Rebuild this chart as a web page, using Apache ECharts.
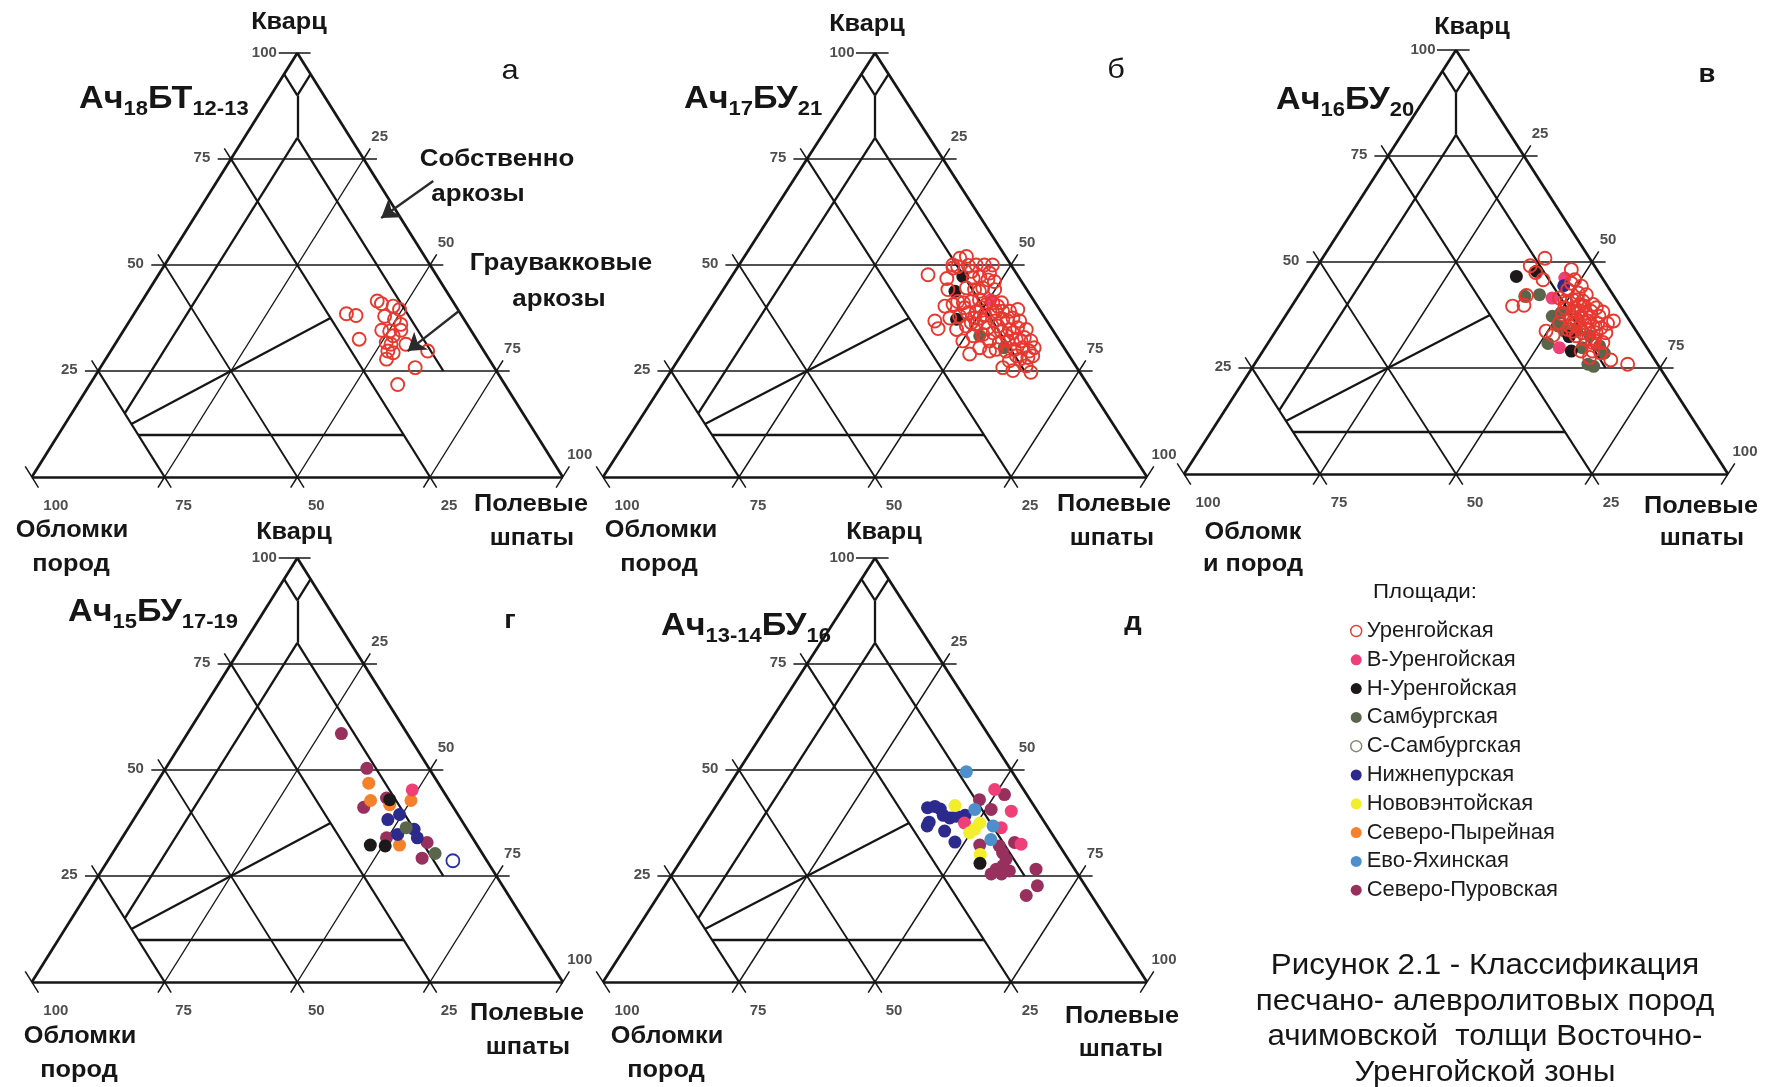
<!DOCTYPE html>
<html>
<head>
<meta charset="utf-8">
<script src="https://cdn.jsdelivr.net/npm/echarts@6/dist/echarts.min.js"></script>
<style>
  html, body { margin: 0; padding: 0; background: #ffffff; }
  #chart { width: 1771px; height: 1087px; }
</style>
</head>
<body>
<div id="chart"></div>
<script>
// Состав пород по треугольнику Q–F–R (Шутов):
// каждая точка — [кварц, полевые шпаты], %, обломки пород = 100 − Q − F.

// а — Ач18БТ12-13
const a_urengoy = [[38.5,40.0],[38.1,42.0],[32.5,45.4],[41.5,44.3],[40.9,45.4],[40.3,47.9],[39.5,49.5],[37.9,47.5],[37.2,49.7],[36.0,51.5],[34.6,48.6],[34.4,50.2],[34.6,52.2],[33.3,51.4],[31.7,50.9],[31.3,52.0],[29.7,52.2],[29.3,53.4],[27.8,52.9],[31.3,54.8],[29.7,59.7],[25.8,59.3],[21.8,58.0]];

// б — Ач17БУ21
const b_urengoy = [[51.6,39.8],[52.0,40.8],[49.6,40.4],[49.9,42.2],[50.0,43.6],[50.0,45.1],[50.0,46.6],[47.7,35.9],[46.8,39.8],[47.3,45.6],[46.5,47.5],[46.1,48.9],[44.2,41.3],[44.6,44.5],[44.2,46.2],[44.6,47.5],[44.2,49.9],[40.3,42.7],[40.7,44.0],[41.1,45.7],[41.4,47.0],[41.8,48.3],[40.7,50.1],[41.1,51.1],[41.1,52.7],[36.8,42.6],[35.0,44.1],[37.5,45.0],[37.9,46.6],[38.7,47.7],[39.1,49.1],[38.3,51.0],[38.7,52.3],[39.1,53.9],[39.1,55.2],[39.5,56.5],[34.8,47.6],[35.6,49.0],[36.0,50.6],[36.4,52.0],[36.8,53.6],[37.2,54.9],[37.5,56.6],[36.8,58.2],[32.1,50.1],[33.3,51.4],[33.6,53.0],[34.0,54.7],[34.4,56.0],[34.8,57.3],[35.2,58.6],[34.8,60.4],[29.0,52.9],[32.1,55.0],[31.7,57.0],[32.1,58.4],[32.5,59.7],[32.9,61.0],[32.1,62.6],[30.1,57.2],[29.7,59.2],[30.1,60.6],[30.5,61.9],[29.7,63.5],[30.5,64.0],[27.8,62.7],[28.2,64.0],[27.4,61.0],[25.8,60.6],[25.1,62.8],[26.2,64.7],[24.7,66.3],[46.9,44.6],[36.4,49.5],[37.5,50.5],[35.2,53.2],[35.6,54.8],[33.3,57.5],[34.0,58.3],[32.1,60.8],[37.5,49.5],[39.9,46.5],[39.9,49.6],[39.1,52.7],[50.0,39.3],[49.3,39.7],[48.5,43.5],[48.1,47.0],[41.4,44.5],[43.8,47.3],[40.3,52.4],[36.8,56.0],[29.7,56.2],[30.5,54.0],[28.6,61.7],[28.6,64.7]];
const b_nUrengoy = [[47.3,42.5],[43.8,42.8],[37.2,46.4]];
const b_vUrengoy = [[41.8,50.4]];
const b_samburg  = [[33.3,52.6],[30.5,58.5]];

// в — Ач16БУ20
const v_urengoy = [[50.9,40.9],[49.1,39.1],[47.5,40.9],[42.1,41.9],[39.6,40.6],[39.8,42.6],[45.8,43.1],[48.2,47.1],[45.8,48.9],[44.3,50.9],[43.5,48.8],[42.3,52.8],[41.1,51.8],[40.4,50.1],[41.5,48.3],[39.2,52.2],[39.6,53.8],[40.0,55.2],[39.2,56.2],[38.2,57.9],[37.6,50.8],[36.9,52.8],[37.2,54.4],[36.9,56.1],[35.5,58.3],[35.5,60.1],[36.1,60.9],[35.7,51.2],[34.9,53.4],[34.5,55.4],[34.1,57.2],[33.3,59.1],[33.7,49.7],[32.7,51.5],[32.6,55.8],[31.8,58.0],[31.4,59.8],[31.0,61.5],[29.0,58.5],[29.0,60.6],[28.6,62.3],[26.9,65.0],[25.9,68.6],[27.5,60.8],[38.4,52.3],[40.8,52.9],[39.2,50.4],[41.1,50.9],[39.6,52.9],[38.0,54.9],[36.5,53.9],[35.7,55.8],[34.1,53.5],[38.0,53.4],[34.9,57.7],[40.8,49.6],[36.5,52.7],[35.3,54.1],[38.4,53.8],[36.1,56.2],[33.7,54.6],[33.3,56.6],[38.4,55.6],[42.7,51.1],[45.0,48.7],[37.2,57.7],[31.0,59.6],[33.3,60.9],[34.5,59.4]];
const v_nUrengoy = [[46.6,37.8],[47.8,40.9],[32.4,54.6],[29.0,56.7]];
const v_vUrengoy = [[41.5,46.9],[29.8,54.1],[46.2,46.9]];
const v_samburg  = [[41.9,41.7],[42.3,44.2],[37.2,49.1],[34.9,51.3],[33.7,53.1],[30.8,51.5],[32.6,58.3],[28.5,63.0],[25.9,61.3],[25.4,62.6],[29.8,58.3],[38.0,50.3],[33.7,55.1],[30.2,61.3]];
const v_nizhnepur = [[44.4,47.6]];

// г — Ач15БУ17-19
const g_sevPurov  = [[58.6,29.0],[50.4,37.9],[41.2,41.9],[43.4,45.1],[34.0,49.8],[32.9,58.0],[29.2,58.9]];
const g_sevPyrey  = [[46.9,40.0],[42.8,42.4],[41.8,46.5],[42.8,50.0],[32.3,53.1]];
const g_nUrengoy  = [[43.0,45.9],[32.3,47.6],[32.1,50.5]];
const g_vUrengoy  = [[45.3,49.0]];
const g_nizhnepur = [[39.5,49.5],[38.3,47.9],[36.0,54.0],[34.8,51.5],[34.0,55.6]];
const g_samburg   = [[36.4,52.3],[30.3,60.8]];
const g_sSamburg  = [[28.6,65.0]];

// д — Ач13-14БУ16
const d_nizhnepur = [[41.1,39.1],[41.4,40.3],[40.8,41.6],[39.3,42.9],[38.7,44.4],[39.3,46.9],[36.8,41.2],[37.7,41.1],[35.6,45.0],[33.0,48.2],[39.1,45.4]];
const d_novoventoy = [[41.6,43.9],[37.5,50.5],[35.2,49.8],[36.0,50.3],[30.1,54.3]];
const d_evoYakha  = [[49.6,42.0],[36.8,53.3],[33.6,54.5],[40.7,48.0]];
const d_vUrengoy  = [[45.4,49.3],[40.3,54.9],[32.5,60.6],[36.4,55.0],[37.5,47.7]];
const d_sevPurov  = [[43.0,47.7],[44.2,51.7],[40.7,51.0],[32.3,53.1],[32.1,56.8],[30.5,58.2],[29.0,59.6],[26.6,59.0],[26.2,61.6],[32.9,59.2],[26.6,66.3],[22.7,68.5],[20.4,67.6],[27.4,59.8],[25.5,58.6],[25.5,60.5]];
const d_nUrengoy  = [[28.0,55.3]];

// Площади (легенда)
const areaNames = ['Уренгойская','В-Уренгойская','Н-Уренгойская','Самбургская','С-Самбургская','Нижнепурская','Нововэнтойская','Северо-Пырейная','Ево-Яхинская','Северо-Пуровская'];

// Подписи шкал
const edgeTicks = [25, 50, 75];
const panelLetters = ['а','б','в','г','д'];
const panelTitles = [
  ['Ач','18','БТ','12-13'],
  ['Ач','17','БУ','21'],
  ['Ач','16','БУ','20'],
  ['Ач','15','БУ','17-19'],
  ['Ач','13-14','БУ','16']
];

// Стрелки-указатели полей на диаграмме «а» (x = F + Q/2, y = Q)
const arrowNotes = [
  [[75.6,69.8],[65.8,61.1]],
  [[80.5,39.2],[70.8,29.7]]
];

// ---------------------------------------------------------------
const W = 544, H = 424;           // размер треугольника, px
const PAD = 6;                    // запас осей за пределами треугольника
const panels = [
  { x0: 18,   y0: 477, sets: { 'Уренгойская': a_urengoy } },
  { x0: 603,  y0: 477, sets: { 'Уренгойская': b_urengoy, 'Самбургская': b_samburg, 'В-Уренгойская': b_vUrengoy, 'Н-Уренгойская': b_nUrengoy } },
  { x0: 1184, y0: 474, sets: { 'Уренгойская': v_urengoy, 'Самбургская': v_samburg, 'В-Уренгойская': v_vUrengoy, 'Н-Уренгойская': v_nUrengoy, 'Нижнепурская': v_nizhnepur } },
  { x0: 18,   y0: 982, sets: { 'Северо-Пуровская': g_sevPurov, 'Северо-Пырейная': g_sevPyrey, 'Н-Уренгойская': g_nUrengoy, 'В-Уренгойская': g_vUrengoy, 'Нижнепурская': g_nizhnepur, 'Самбургская': g_samburg, 'С-Самбургская': g_sSamburg } },
  { x0: 603,  y0: 982, sets: { 'Нижнепурская': d_nizhnepur, 'Северо-Пуровская': d_sevPurov, 'В-Уренгойская': d_vUrengoy, 'Ево-Яхинская': d_evoYakha, 'Нововэнтойская': d_novoventoy, 'Н-Уренгойская': d_nUrengoy } }
];

const FONT = '"Liberation Sans", Arial, sans-serif';
const INK = '#161616';

const areaStyle = {
  'Уренгойская':      { color: 'rgba(255,255,255,0)', borderColor: '#e6392f', borderWidth: 1.9 },
  'В-Уренгойская':    { color: '#ee3f79' },
  'Н-Уренгойская':    { color: '#1d191b' },
  'Самбургская':      { color: '#59664c' },
  'С-Самбургская':    { color: 'rgba(255,255,255,0)', borderColor: '#2a33a6', borderWidth: 1.8 },
  'Нижнепурская':     { color: '#2d2a8e' },
  'Нововэнтойская':   { color: '#f3ee2c' },
  'Северо-Пырейная':  { color: '#f5812c' },
  'Ево-Яхинская':     { color: '#4c8fca' },
  'Северо-Пуровская': { color: '#98305d' }
};

// тройная точка (Q, F) -> декартовы координаты панели
const tern = (q, f) => [f + q / 2, q];

// Каркас диаграммы в координатах [Q, F]
const frameEdges = [[[0,0],[0,100]], [[0,0],[100,0]], [[0,100],[100,0]]];
const frameGridQ = [[[25,0],[25,75]], [[50,0],[50,50]], [[75,0],[75,25]]];
const frameGridF = [[[0,25],[75,25]], [[0,50],[50,50]], [[0,75],[25,75]]];
const frameGridRBold = [[[0,75],[75,0]], [[0,25],[25,0]]];
const frameGridR = [[[0,50],[50,0]]];
const frameFields = [
  [[95,0],[90,5]], [[95,5],[90,5]], [[90,5],[80,10]],
  [[80,10],[15,10]], [[80,10],[25,65]],
  [[12.5,12.5],[37.5,37.5]], [[10,15],[10,65]]
];

function segs(list) {
  return list.map(s => ({ coords: [tern(s[0][0], s[0][1]), tern(s[1][0], s[1][1])] }));
}

function tickSegs() {
  const d = 2.5, out = [];
  edgeTicks.forEach(v => {
    out.push({ coords: [[v, 0], [v - d / 2, -d]] });
    out.push({ coords: [[v, 0], [v + d / 2, -d]] });
    out.push({ coords: [[v / 2, v], [v / 2 - d, v]] });
    out.push({ coords: [[v / 2, v], [v / 2 - d / 2, v + d]] });
    out.push({ coords: [[100 - v / 2, v], [100 - v / 2 + d, v]] });
    out.push({ coords: [[100 - v / 2, v], [100 - v / 2 + d / 2, v + d]] });
  });
  out.push({ coords: [[-d / 2, d], [d / 2, -d]] });
  out.push({ coords: [[100 - d / 2, -d], [100 + d / 2, d]] });
  out.push({ coords: [[46.5, 100], [52.5, 100]] });
  return out;
}

function tickLabels() {
  const out = [];
  edgeTicks.forEach(v => {
    out.push({ value: [v / 2, v], label: { formatter: String(v), offset: [-29, -1] } });
    out.push({ value: [100 - v / 2, v], label: { formatter: String(100 - v), offset: [16, -22] } });
    out.push({ value: [v, 0], label: { formatter: String(100 - v), offset: [19, 29] } });
  });
  out.push({ value: [50, 100], label: { formatter: '100', offset: [-33, 0] } });
  out.push({ value: [100, 0], label: { formatter: '100', offset: [17, -22] } });
  out.push({ value: [0, 0], label: { formatter: '100', offset: [24, 29] } });
  return out;
}

const grids = [], xAxes = [], yAxes = [], series = [];

panels.forEach((p, i) => {
  grids.push({
    left: p.x0 - PAD * W / 100,
    top: p.y0 - H - PAD * H / 100,
    width: W * (100 + 2 * PAD) / 100,
    height: H * (100 + 2 * PAD) / 100,
    containLabel: false
  });
  xAxes.push({ gridIndex: i, type: 'value', min: -PAD, max: 100 + PAD, show: false });
  yAxes.push({ gridIndex: i, type: 'value', min: -PAD, max: 100 + PAD, show: false });

  const lineSeries = (data, width) => ({
    type: 'lines', coordinateSystem: 'cartesian2d', xAxisIndex: i, yAxisIndex: i,
    silent: true, z: 1,
    lineStyle: { color: INK, width: width, opacity: 1, curveness: 0 },
    data: data
  });
  series.push(lineSeries(segs(frameGridF), 1.4));
  series.push(lineSeries(segs(frameGridQ), 1.6));
  series.push(lineSeries(segs(frameGridR), 1.8));
  series.push(lineSeries(segs(frameGridRBold), 2.3));
  series.push(lineSeries(segs(frameFields), 2.3));
  series.push(lineSeries(segs(frameEdges), 2.7));
  series.push(lineSeries(tickSegs(), 1.5));

  series.push({
    type: 'scatter', xAxisIndex: i, yAxisIndex: i, silent: true, z: 5,
    symbolSize: 1, itemStyle: { color: 'rgba(0,0,0,0)' },
    label: { show: true, position: 'inside', color: '#222', fontFamily: FONT, fontWeight: 'bold', fontSize: 15 },
    data: tickLabels()
  });

  Object.keys(p.sets).forEach(name => {
    series.push({
      name: name, type: 'scatter', xAxisIndex: i, yAxisIndex: i,
      z: name === 'Уренгойская' ? 4 : 3,
      symbol: 'circle', symbolSize: 13,
      itemStyle: Object.assign({ opacity: 1 }, areaStyle[name]),
      emphasis: { disabled: true },
      data: p.sets[name].map(pt => tern(pt[0], pt[1]))
    });
  });
});

// стрелки на диаграмме «а»
series.push({
  type: 'lines', coordinateSystem: 'cartesian2d', xAxisIndex: 0, yAxisIndex: 0,
  silent: true, z: 6, symbol: ['none', 'arrow'], symbolSize: 17,
  lineStyle: { color: '#2b2b2b', width: 2.4, opacity: 1 },
  data: arrowNotes.map(c => ({ coords: c }))
});

// ---------------------------------------------------------------
function text(x, y, str, font, opt) {
  return Object.assign({
    type: 'text', x: x, y: y, scaleX: 1.1, silent: true, z: 10,
    style: { text: str, font: font, fill: INK, align: 'center', verticalAlign: 'middle',
             textAlign: 'center', textVerticalAlign: 'middle' }
  }, opt || {});
}
const BOLD = 'bold 23px ' + FONT;
const graphics = [];

const axisNames = [
  { q: [289, 23],   r: [[72, 531], [71, 565]],    f: [[531, 505], [532, 539]], rn: ['Обломки', 'пород'] },
  { q: [867, 25],   r: [[661, 531], [659, 565]],  f: [[1114, 505], [1112, 539]], rn: ['Обломки', 'пород'] },
  { q: [1472, 28],  r: [[1253, 533], [1253, 565]], f: [[1701, 507], [1702, 539]], rn: ['Обломк', 'и пород'] },
  { q: [294, 533],  r: [[80, 1037], [79, 1071]],  f: [[527, 1014], [528, 1048]], rn: ['Обломки', 'пород'] },
  { q: [884, 533],  r: [[667, 1037], [666, 1071]], f: [[1122, 1017], [1121, 1050]], rn: ['Обломки', 'пород'] }
];
axisNames.forEach(n => {
  graphics.push(text(n.q[0], n.q[1], 'Кварц', BOLD));
  graphics.push(text(n.r[0][0], n.r[0][1], n.rn[0], BOLD));
  graphics.push(text(n.r[1][0], n.r[1][1], n.rn[1], BOLD));
  graphics.push(text(n.f[0][0], n.f[0][1], 'Полевые', BOLD));
  graphics.push(text(n.f[1][0], n.f[1][1], 'шпаты', BOLD));
});

const letterPos = [[510, 71], [1116, 70], [1707, 75], [510, 621], [1133, 623]];
const letterFont = ['28px ' + FONT, '28px ' + FONT, 'bold 25px ' + FONT, 'bold 25px ' + FONT, 'bold 25px ' + FONT];
panelLetters.forEach((l, i) => graphics.push(text(letterPos[i][0], letterPos[i][1], l, letterFont[i])));

const titlePos = [[79, 84], [684, 84], [1276, 85], [68, 597], [661, 611]];
panelTitles.forEach((t, i) => {
  graphics.push({
    type: 'text', x: titlePos[i][0], y: titlePos[i][1], scaleX: 1.1, silent: true, z: 10,
    style: {
      text: '{m|' + t[0] + '}{s|' + t[1] + '}{m|' + t[2] + '}{s|' + t[3] + '}',
      fill: INK, align: 'left', verticalAlign: 'top', textAlign: 'left', textVerticalAlign: 'top',
      rich: {
        m: { font: 'bold 31px ' + FONT, lineHeight: 31, verticalAlign: 'top', fill: INK },
        s: { font: 'bold 20px ' + FONT, lineHeight: 20, verticalAlign: 'top', padding: [15, 0, 0, 0], fill: INK }
      }
    }
  });
});

const NOTE = 'bold 24px ' + FONT;
graphics.push(text(497, 159, 'Собственно', NOTE, { scaleX: 1.08 }));
graphics.push(text(478, 194, 'аркозы', NOTE, { scaleX: 1.08 }));
graphics.push(text(561, 263, 'Граувакковые', NOTE, { scaleX: 1.08 }));
graphics.push(text(559, 299, 'аркозы', NOTE, { scaleX: 1.08 }));

graphics.push(text(1425, 592, 'Площади:', '21px ' + FONT, { scaleX: 1.06 }));

const caption = ['Рисунок 2.1 - Классификация', 'песчано- алевролитовых пород', 'ачимовской  толщи Восточно-', 'Уренгойской зоны'];
caption.forEach((c, i) => graphics.push(text(1485, 966 + i * 35.7, c, '29px ' + FONT, { scaleX: 1.08 })));

// ---------------------------------------------------------------
const legendData = areaNames.map(n => {
  const s = areaStyle[n];
  if (n === 'С-Самбургская') {
    return { name: n, itemStyle: { color: '#ffffff', borderColor: '#7c8a6c', borderWidth: 1.4 } };
  }
  if (n === 'Уренгойская') {
    return { name: n, itemStyle: { color: '#ffffff', borderColor: '#e6392f', borderWidth: 1.4 } };
  }
  return { name: n, itemStyle: { color: s.color, borderWidth: 0 } };
});

const chart = echarts.init(document.getElementById('chart'), null, { renderer: 'canvas' });
chart.setOption({
  animation: false,
  backgroundColor: '#ffffff',
  textStyle: { fontFamily: FONT },
  grid: grids,
  xAxis: xAxes,
  yAxis: yAxes,
  legend: {
    orient: 'vertical', left: 1345, top: 615, itemGap: 6.8,
    itemWidth: 11, itemHeight: 11, icon: 'circle', selectedMode: false,
    textStyle: { fontFamily: FONT, fontSize: 22, lineHeight: 22, color: '#1c1c1c' },
    data: legendData
  },
  graphic: { elements: graphics },
  series: series
});
</script>
</body>
</html>
